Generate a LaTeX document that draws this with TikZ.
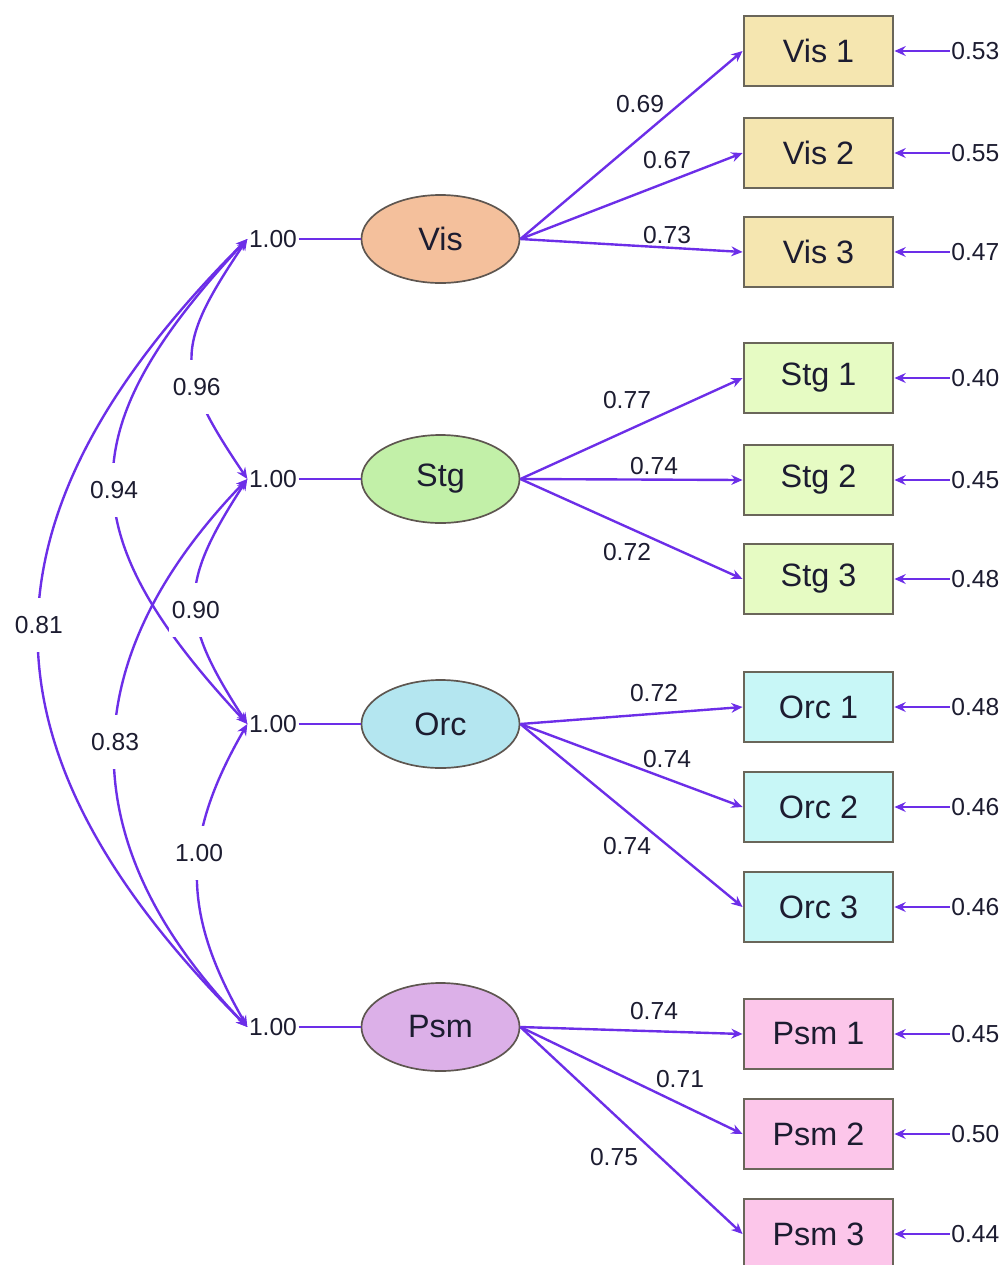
\documentclass[tikz,border=0pt]{standalone}
\usepackage{fontspec}
\setmainfont{Liberation Sans}
\usetikzlibrary{arrows.meta, shapes.geometric, positioning}
\definecolor{SEMPath}{HTML}{6C2EE8}
\definecolor{SEMText}{HTML}{1C1C30}
\definecolor{VisFill}{HTML}{F4C09C}
\definecolor{VisBox}{HTML}{F5E6B0}
\definecolor{StgFill}{HTML}{C2F0A8}
\definecolor{StgBox}{HTML}{E6FBC3}
\definecolor{OrcFill}{HTML}{B4E6F0}
\definecolor{OrcBox}{HTML}{C8F7F7}
\definecolor{PsmFill}{HTML}{DCB0E8}
\definecolor{PsmBox}{HTML}{FCC6EA}
\definecolor{EdgeGray}{HTML}{5E5650}
\definecolor{BoxEdge}{HTML}{6A665A}
\tikzset{
    % latent factors and observed items
    latent/.style={
        ellipse,
        draw=EdgeGray,
        line width=1.2pt,
        minimum width=3.95cm,
        minimum height=2.2cm,
        text=SEMText,
        font=\fontsize{23}{23}\selectfont
    },
    itembox/.style={
        rectangle,
        draw=BoxEdge,
        line width=2pt,
        minimum width=3.725cm,
        minimum height=1.75cm,
        text=SEMText,
        font=\fontsize{23}{23}\selectfont
    },
    % estimates
    estlbl/.style={
        text=SEMText,
        inner sep=1pt,
        font=\fontsize{17.5}{17.5}\selectfont
    },
    covlbl/.style={
        estlbl,
        fill=white,
        inner xsep=2pt,
        inner ysep=13pt
    },
    % paths
    loadarrow/.style={
        -{Stealth[length=8pt,width=7pt]},
        line width=1.7pt,
        SEMPath
    },
    covarrow/.style={
        {Stealth[length=8pt,width=7pt]}-{Stealth[length=8pt,width=7pt]},
        line width=1.7pt,
        SEMPath
    },
    varline/.style={
        line width=2pt,
        SEMPath
    }
}
\begin{document}
\begin{tikzpicture}[x=0.025cm, y=0.025cm]
    \useasboundingbox (0,0) rectangle (1005,-1265);
    \clip (0,0) rectangle (1005,-1265);

    % Latent factors
    \node[latent, fill=VisFill] (Vis) at (440.5,-239) {Vis};
    \node[latent, fill=StgFill] (Stg) at (440.5,-479) {Stg};
    \node[latent, fill=OrcFill] (Orc) at (440.5,-724) {Orc};
    \node[latent, fill=PsmFill] (Psm) at (440.5,-1027) {Psm};

    % Observed items
    \node[itembox, fill=VisBox] (Vis1) at (818.5,-51) {Vis 1};
    \node[itembox, fill=VisBox] (Vis2) at (818.5,-153) {Vis 2};
    \node[itembox, fill=VisBox] (Vis3) at (818.5,-252) {Vis 3};
    \node[itembox, fill=StgBox] (Stg1) at (818.5,-378) {Stg 1};
    \node[itembox, fill=StgBox] (Stg2) at (818.5,-480) {Stg 2};
    \node[itembox, fill=StgBox] (Stg3) at (818.5,-579) {Stg 3};
    \node[itembox, fill=OrcBox] (Orc1) at (818.5,-707) {Orc 1};
    \node[itembox, fill=OrcBox] (Orc2) at (818.5,-807) {Orc 2};
    \node[itembox, fill=OrcBox] (Orc3) at (818.5,-907) {Orc 3};
    \node[itembox, fill=PsmBox] (Psm1) at (818.5,-1034) {Psm 1};
    \node[itembox, fill=PsmBox] (Psm2) at (818.5,-1134) {Psm 2};
    \node[itembox, fill=PsmBox] (Psm3) at (818.5,-1234) {Psm 3};

    % Loadings
    \foreach \lat/\ind/\val/\lx/\ly in {Vis/Vis1/0.69/640/104, Vis/Vis2/0.67/667/160, Vis/Vis3/0.73/667/235,
        Stg/Stg1/0.77/627/400, Stg/Stg2/0.74/654/466, Stg/Stg3/0.72/627/552,
        Orc/Orc1/0.72/654/693, Orc/Orc2/0.74/667/759, Orc/Orc3/0.74/627/846,
        Psm/Psm1/0.74/654/1011, Psm/Psm2/0.71/680/1079, Psm/Psm3/0.75/614/1157} {
        \draw[loadarrow] (\lat.east) -- (\ind.west);
        \node[estlbl] (l\ind) at (\lx,-\ly) {\val};
    }

    % Error variances
    \foreach \ind/\val in {Vis1/0.53, Vis2/0.55, Vis3/0.47, Stg1/0.40, Stg2/0.45, Stg3/0.48,
        Orc1/0.48, Orc2/0.46, Orc3/0.46, Psm1/0.45, Psm2/0.50, Psm3/0.44} {
        \node[estlbl, right=1.38cm of \ind] (e\ind) {\val};
        \draw[loadarrow] (e\ind.west) -- (\ind.east);
    }

    % Factor variances
    \foreach \lat in {Vis, Stg, Orc, Psm} {
        \node[estlbl, left=1.55cm of \lat] (v\lat) {1.00};
        \draw[varline] (v\lat.east) -- (\lat.west);
    }

    % Covariances
    \foreach \a/\b/\nm/\val/\o/\i/\loose/\p in {vVis/vStg/cVS/0.96/236/124/1.4/0.64,
        vVis/vOrc/cVO/0.94/227/133/1.38/0.52, vVis/vPsm/cVP/0.81/225/135/1.28/0.49,
        vStg/vOrc/cSO/0.90/237/123/1.33/0.54, vStg/vPsm/cSP/0.83/226/134/1.19/0.48,
        vOrc/vPsm/cOP/1.00/240/120/1.12/0.42} {
        \draw[covarrow] (\a.west) to[out=\o, in=\i, looseness=\loose]
            node[covlbl, pos=\p] (\nm) {\val} (\b.west);
    }
\end{tikzpicture}
\end{document}
